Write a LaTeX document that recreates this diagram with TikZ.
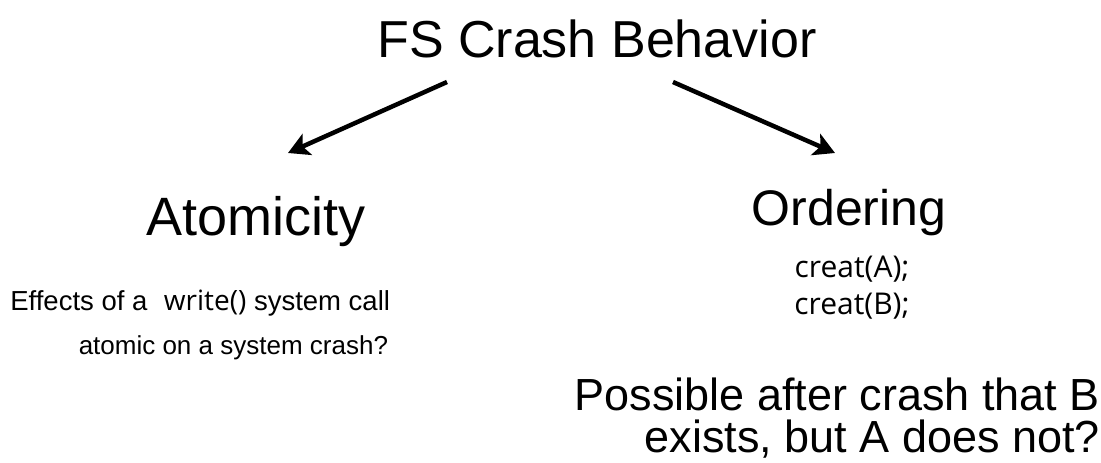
\documentclass[tikz,border=0pt]{standalone}
\usepackage{fontspec}
\setmainfont{Liberation Sans}
\newfontfamily\codefont{Open Sans}
\usetikzlibrary{arrows.meta}
\begin{document}
\begin{tikzpicture}[x=1pt,y=-1pt,
  txt/.style={inner sep=0pt, outer sep=0pt, anchor=base},
  arr/.style={line width=4.5pt, -{Stealth[length=21pt,width=23pt,inset=5pt]}}]
\useasboundingbox[fill=white] (0,0) rectangle (1101,463);
\node[txt] (title) at (597,57) {\fontsize{52}{60}\selectfont FS Crash Behavior};
\node[txt] (atom) at (256,235) {\fontsize{54}{60}\selectfont Atomicity};
\node[txt] (ord) at (849,225) {\fontsize{50}{58}\selectfont Ordering};
\node[txt, anchor=base east] (e1) at (390,310) {\fontsize{27.5}{32}\selectfont Effects of a\hspace{0.6em}{\fontsize{28}{34}\selectfont\codefont write()} system call};
\node[txt, anchor=base east] (e2) at (388,354) {\fontsize{26}{32}\selectfont atomic on a system crash?};
\node[txt] (ca) at (852,277) {\fontsize{30}{34}\selectfont\codefont creat(A);};
\node[txt] (cb) at (852,314) {\fontsize{30}{34}\selectfont\codefont creat(B);};
\node[txt, anchor=base east] (p1) at (1100,410) {\fontsize{45}{50}\selectfont Possible after crash that B};
\node[txt, anchor=base east] (p2) at (1100,452) {\fontsize{45}{50}\selectfont exists, but A does not?};
\coordinate (ls) at (447,82);
\coordinate (le) at (288,153);
\coordinate (rs) at (673,82);
\coordinate (re) at (835,153);
\draw[arr] (ls) -- (le);
\draw[arr] (rs) -- (re);
\end{tikzpicture}
\end{document}
